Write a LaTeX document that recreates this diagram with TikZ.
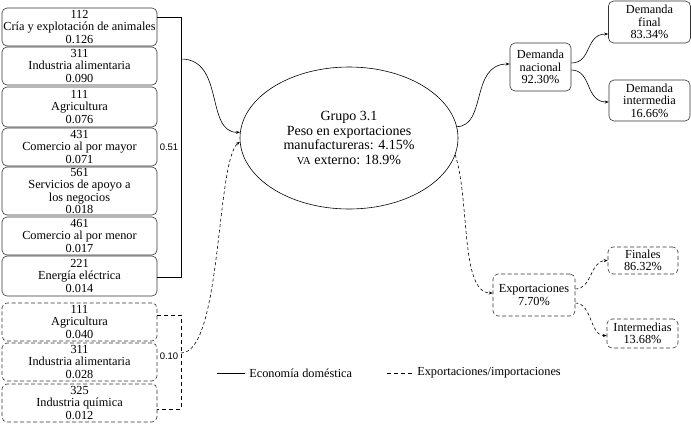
\documentclass[tikz,border=0pt]{standalone}
\usepackage{fontspec}
\setmainfont{Liberation Serif}
\setsansfont{Liberation Sans}
\usetikzlibrary{arrows.meta,shapes.geometric}
\begin{document}
\begin{tikzpicture}[x=1pt,y=-1pt,
  box/.style={draw=black!80, rounded corners=5pt, line width=0.6pt, align=center, inner sep=0pt, font=\fontsize{12.3}{12.5}\selectfont},
  lbox/.style={box, minimum width=155pt},
  dashbox/.style={box, dash pattern=on 4pt off 2.5pt},
  conn/.style={line width=0.6pt, -{Stealth[length=4pt,width=3pt]}},
  dconn/.style={conn, dash pattern=on 3pt off 2.5pt},
  brk/.style={line width=0.8pt},
  dbrk/.style={brk, dash pattern=on 4pt off 3pt},
  lab/.style={font=\sffamily\fontsize{9.5}{10}\selectfont, inner sep=0pt},
  leg/.style={font=\fontsize{12.3}{12.5}\selectfont, inner sep=4pt}]
\useasboundingbox (0,0) rectangle (691,424);

% left boxes, domestic
\node[lbox, minimum height=38pt] (b1) at (79.5,27) {112\\Cría y explotación de animales\\0.126};
\node[lbox, minimum height=38pt] (b2) at (79.5,66) {311\\Industria alimentaria\\0.090};
\node[lbox, minimum height=40pt] (b3) at (79.5,107) {111\\Agricultura\\0.076};
\node[lbox, minimum height=38pt] (b4) at (79.5,147) {431\\Comercio al por mayor\\0.071};
\node[lbox, minimum height=48pt] (b5) at (79.5,191) {561\\Servicios de apoyo a\\los negocios\\0.018};
\node[lbox, minimum height=38pt] (b6) at (79.5,236) {461\\Comercio al por menor\\0.017};
\node[lbox, minimum height=40pt] (b7) at (79.5,276) {221\\Energía eléctrica\\0.014};

% left boxes, imports
\node[lbox, dashbox, minimum height=38pt] (b8) at (79.5,322) {111\\Agricultura\\0.040};
\node[lbox, dashbox, minimum height=38pt] (b9) at (79.5,362) {311\\Industria alimentaria\\0.028};
\node[lbox, dashbox, minimum height=38pt] (b10) at (79.5,403) {325\\Industria química\\0.012};

% brackets
\draw[brk] ([yshift=10pt]b1.east) -- ++(24,0) |- ([yshift=-1pt]b7.east);
\node[lab] (l51) at (169,147) {0.51};
\draw[dbrk] ([yshift=7pt]b8.east) -- ++(24,0) |- ([yshift=-6pt]b10.east);
\node[lab] (l10) at (169,356) {0.10};

% central ellipse
\node[draw, ellipse, line width=0.6pt, minimum width=218pt, minimum height=142pt, align=center,
      font=\fontsize{14}{14.5}\selectfont] (E) at (349,138)
      {Grupo 3.1\\Peso en exportaciones\\manufactureras: 4.15\%\\{\fontsize{10.5}{10}\selectfont VA} externo: 18.9\%};

\coordinate (s1) at (181,59);
\coordinate (s2) at (181,353);
\draw[conn] (s1) .. controls (225,59) and (205,133) .. (E.177);
\draw[dconn] (s2) .. controls (222,353) and (216,160) .. (E.182);

% right side
\node[box, minimum width=61pt, minimum height=48pt] (dn) at (540.5,67) {Demanda\\nacional\\92.30\%};
\node[box, minimum width=82pt, minimum height=42pt] (df) at (649.5,22) {Demanda\\final\\83.34\%};
\node[box, minimum width=81pt, minimum height=41pt] (di) at (649.5,100.5) {Demanda\\intermedia\\16.66\%};

\node[box, dashbox, minimum width=82pt, minimum height=42pt] (ex) at (534,295) {Exportaciones\\7.70\%};
\node[box, dashbox, minimum width=70pt, minimum height=27pt] (fi) at (643,260.5) {Finales\\86.32\%};
\node[box, dashbox, minimum width=71pt, minimum height=29pt] (im) at (642.5,333.5) {Intermedias\\13.68\%};

\draw[conn] (E.6) .. controls (487,126) and (470,64) .. ([yshift=3pt]dn.west);
\draw[conn] ([yshift=4pt]dn.east) .. controls (592,63) and (585,34) .. ([yshift=-12pt]df.west);
\draw[conn] ([yshift=-3pt]dn.east) .. controls (592,70) and (585,102) .. ([yshift=-1.5pt]di.west);

\draw[dconn] (E.351) .. controls (470,200) and (460,293) .. ([yshift=2pt]ex.west);
\draw[dconn] ([yshift=6pt]ex.east) .. controls (592,289) and (590,261) .. (fi.west);
\draw[dconn] ([yshift=-8pt]ex.east) .. controls (592,303) and (590,336) .. ([yshift=-2pt]im.west);

% legend
\coordinate (la) at (217,373);
\coordinate (lb) at (245,373);
\coordinate (lc) at (387,373);
\coordinate (ld) at (415,373);
\draw[line width=0.6pt] (la) -- (lb) node[leg, right] (t1) {Economía doméstica};
\draw[line width=0.6pt, dash pattern=on 4pt off 3pt] (lc) -- (ld) node[leg, right, inner sep=2pt] (t2) {Exportaciones/importaciones};
\end{tikzpicture}
\end{document}
